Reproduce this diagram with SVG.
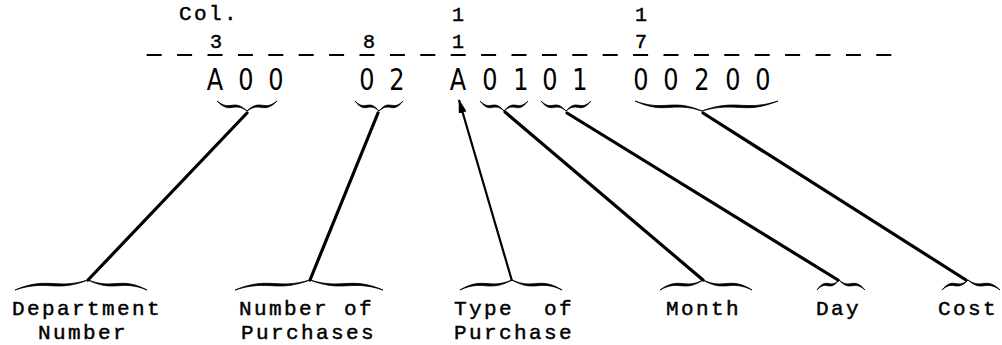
<svg xmlns="http://www.w3.org/2000/svg" width="1002" height="345" viewBox="0 0 1002 345">
  <style>
    .mono { font-family: "Liberation Mono", "Courier New", monospace; fill: #000; stroke: #000; stroke-width: 0.45; }
    .label { font-size: 21px; letter-spacing: 2.4px; }
    .colno { font-size: 20px; text-anchor: middle; }
    .rec { font-family: "DejaVu Sans", "Liberation Sans", sans-serif; font-size: 30px; fill: #000; text-anchor: middle; }
    .brace { fill: #000; stroke: #000; stroke-width: 0.8; stroke-linejoin: round; }
    .lead { stroke: #000; stroke-width: 3.2; stroke-linecap: round; fill: none; }
    .arrow { stroke: #000; stroke-width: 2.2; fill: none; }
  </style>
  <defs>
    <marker id="head" viewBox="0 0 14 8" markerWidth="14" markerHeight="8" refX="13" refY="4" orient="auto" markerUnits="userSpaceOnUse">
      <path d="M0,0 L14,4 L0,8 Z" fill="#000"/>
    </marker>
  </defs>
  <rect width="1002" height="345" fill="#fff"/>

  <!-- column ruler -->
  <g id="ruler">
    <text class="mono label" x="179" y="20">Col.</text>
    <text class="mono colno" x="216" y="48">3</text>
    <text class="mono colno" x="369" y="48">8</text>
    <text class="mono colno" x="458" y="21">1</text>
    <text class="mono colno" x="458" y="48">1</text>
    <text class="mono colno" x="641" y="21">1</text>
    <text class="mono colno" x="641" y="48">7</text>
    <line x1="146.7" y1="55" x2="893" y2="55" stroke="#000" stroke-width="2.2" stroke-dasharray="15 15.4"/>
  </g>

  <!-- record fields with underbraces -->
  <g id="field-dept">
    <text class="rec" transform="scale(0.8 1)" x="268.75 307.5 345" y="90">A00</text>
    <path class="brace" d="M217,101 C230.5,112 233.5,98 247,111 C233.5,101 230.5,115 217,101Z M247,111 C260.5,98 263.5,112 277,101 C263.5,115 260.5,101 247,111Z"/>
  </g>
  <g id="field-count">
    <text class="rec" transform="scale(0.8 1)" x="458.75 496.25" y="90">02</text>
    <path class="brace" d="M355,101 C365.8,112 368.2,98 379,111 C368.2,101 365.8,115 355,101Z M379,111 C389.8,98 392.2,112 403,101 C392.2,115 389.8,101 379,111Z"/>
  </g>
  <g id="field-type">
    <text class="rec" transform="scale(0.8 1)" x="572.5" y="90">A</text>
  </g>
  <g id="field-month">
    <text class="rec" transform="scale(0.8 1)" x="612.5 651.25" y="90">01</text>
    <path class="brace" d="M480,101 C490.8,112 493.2,98 504,111 C493.2,101 490.8,115 480,101Z M504,111 C514.8,98 517.2,112 528,101 C517.2,115 514.8,101 504,111Z"/>
  </g>
  <g id="field-day">
    <text class="rec" transform="scale(0.8 1)" x="687.5 725" y="90">01</text>
    <path class="brace" d="M541,101 C552.2,112 554.8,98 566,111 C554.8,101 552.2,115 541,101Z M566,111 C577.2,98 579.8,112 591,101 C579.8,115 577.2,101 566,111Z"/>
  </g>
  <g id="field-cost">
    <text class="rec" transform="scale(0.8 1)" x="801.25 838.75 877.5 916.25 953.75" y="90">00200</text>
    <path class="brace" d="M635,101 C665.2,112 671.8,98 702,111 C671.8,101 665.2,115 635,101Z M702,111 C736.2,98 743.8,112 778,101 C743.8,115 736.2,101 702,111Z"/>
  </g>

  <!-- labels with overbraces -->
  <g id="label-dept">
    <path class="brace" d="M15,290 C47.9,279 55.2,293 88,280 C55.2,290 47.9,276 15,290Z M88,280 C114.6,293 120.5,279 147,290 C120.5,276 114.6,290 88,280Z"/>
    <text class="mono label" x="12" y="315">Department</text>
    <text class="mono label" x="38" y="339">Number</text>
  </g>
  <g id="label-count">
    <path class="brace" d="M235,290 C268.8,279 276.2,293 310,280 C276.2,290 268.8,276 235,290Z M310,280 C342.9,293 350.2,279 383,290 C350.2,276 342.9,290 310,280Z"/>
    <text class="mono label" x="239" y="315">Number of</text>
    <text class="mono label" x="241" y="339">Purchases</text>
  </g>
  <g id="label-type">
    <path class="brace" d="M460,290 C483.4,279 488.6,293 512,280 C488.6,290 483.4,276 460,290Z M512,280 C534.5,293 539.5,279 562,290 C539.5,276 534.5,290 512,280Z"/>
    <text class="mono label" x="454" y="315" xml:space="preserve">Type  of</text>
    <text class="mono label" x="454" y="339">Purchase</text>
  </g>
  <g id="label-month">
    <path class="brace" d="M660,290 C679.4,279 683.6,293 703,280 C683.6,290 679.4,276 660,290Z M703,280 C725,293 730,279 752,290 C730,276 725,290 703,280Z"/>
    <text class="mono label" x="666" y="315">Month</text>
  </g>
  <g id="label-day">
    <path class="brace" d="M817,290 C826.9,279 829.1,293 839,280 C829.1,290 826.9,276 817,290Z M839,280 C850.7,293 853.3,279 865,290 C853.3,276 850.7,290 839,280Z"/>
    <text class="mono label" x="816" y="315">Day</text>
  </g>
  <g id="label-cost">
    <path class="brace" d="M942,290 C953.7,279 956.3,293 968,280 C956.3,290 953.7,276 942,290Z M968,280 C982.4,293 985.6,279 1000,290 C985.6,276 982.4,290 968,280Z"/>
    <text class="mono label" x="938" y="315">Cost</text>
  </g>

  <!-- leader lines -->
  <g id="connectors">
    <line class="lead" x1="247" y1="113" x2="88" y2="280"/>
    <line class="lead" x1="378" y1="113" x2="310" y2="280"/>
    <line class="arrow" x1="512" y1="281" x2="459" y2="100" marker-end="url(#head)"/>
    <line class="lead" x1="505" y1="112" x2="703" y2="280"/>
    <line class="lead" x1="567" y1="113" x2="838" y2="280"/>
    <line class="lead" x1="703" y1="113" x2="966" y2="280"/>
  </g>
</svg>
